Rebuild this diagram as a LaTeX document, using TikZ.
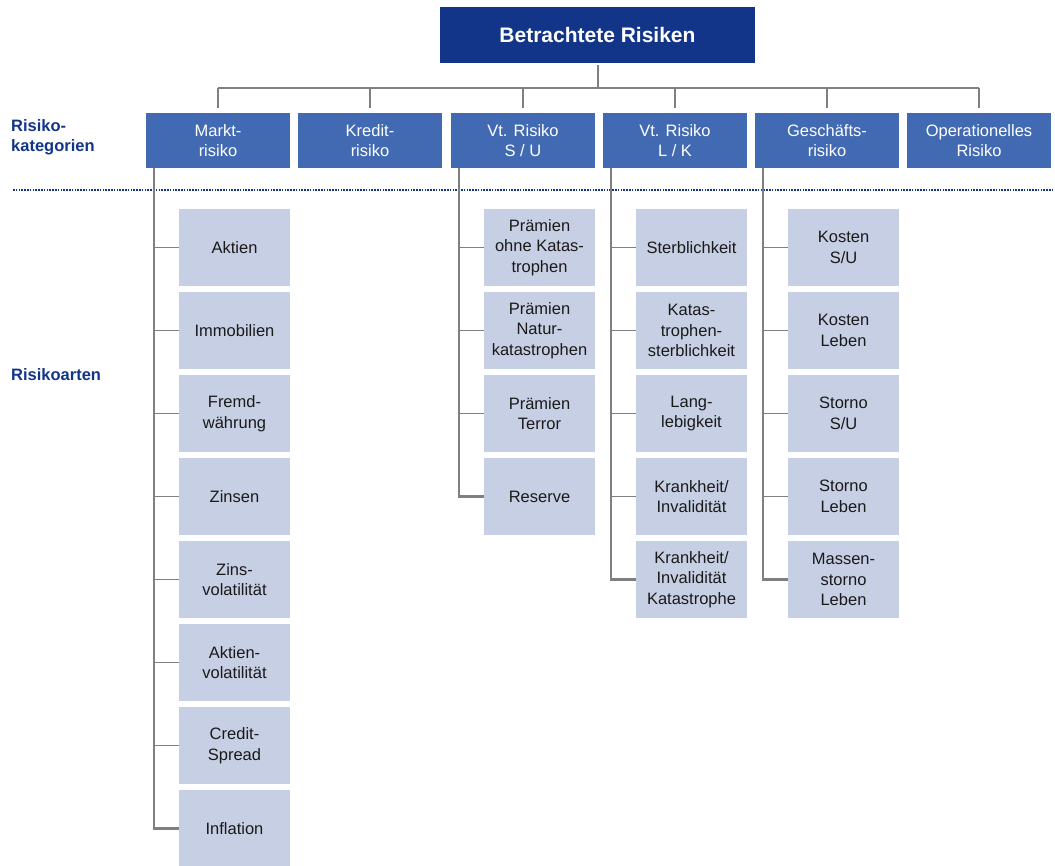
\documentclass[tikz,border=0pt]{standalone}
\usepackage{fontspec}
\setmainfont{Liberation Sans}
\usetikzlibrary{positioning}
\definecolor{titleblue}{HTML}{12358A}
\definecolor{catblue}{HTML}{426AB3}
\definecolor{leafblue}{HTML}{C6CFE3}
\definecolor{linegray}{HTML}{808080}
\definecolor{leaftext}{HTML}{1A1A1A}

\begin{document}
\begin{tikzpicture}[x=1pt,y=-1pt,
  titlebox/.style={rectangle, fill=titleblue, text=white, minimum width=315pt, minimum height=56pt, inner sep=0pt, font=\fontsize{21}{25}\selectfont\bfseries},
  catbox/.style={rectangle, fill=catblue, text=white, minimum width=144pt, minimum height=55pt, align=center, inner sep=0pt, font=\fontsize{16.5}{20.5}\selectfont},
  leaf/.style={rectangle, fill=leafblue, text=leaftext, minimum width=111pt, minimum height=77pt, align=center, inner sep=0pt, font=\fontsize{16.5}{20.5}\selectfont},
  sidelbl/.style={anchor=west, align=left, text=titleblue, inner sep=0pt, font=\fontsize{16.5}{20.5}\selectfont\bfseries},
  link/.style={draw=linegray, line width=2pt},
  trunk/.style={draw=linegray, line width=2.5pt},
  twig/.style={draw=linegray, line width=1.8pt},
  sepline/.style={draw=titleblue, line width=1.8pt, dash pattern=on 1.6pt off 1.2pt},
]
\useasboundingbox (0,0) rectangle (1055,865);

% --- geometry (pixel grid of the reference) ---
\def\yCat{140.5}
\def\yLeaf{247.5}\def\dyLeaf{83}

% --- top node ---
\node[titlebox] (top) at (597.5,35) {Betrachtete Risiken};

% --- row of risk categories ---
\node[catbox] (cat1) at (218,\yCat) {Markt-\\risiko};
\node[catbox] (cat2) at (370,\yCat) {Kredit-\\risiko};
\node[catbox] (cat3) at (523,\yCat) {Vt. Risiko\\S / U};
\node[catbox] (cat4) at (675,\yCat) {Vt. Risiko\\L / K};
\node[catbox] (cat5) at (827,\yCat) {Geschäfts-\\risiko};
\node[catbox] (cat6) at (979,\yCat) {Operationelles\\Risiko};

% --- side labels ---
\node[sidelbl] (lblcat) at (11,137.5) {Risiko-\\kategorien};
\node[sidelbl] (lblart) at (11,375) {Risikoarten};

% --- dotted separator between categories and risk types ---
\coordinate (sepl) at (13,190);
\coordinate (sepr) at (1055,190);
\draw[sepline] (sepl) -- (sepr);

% --- bus from top node to the categories ---
\coordinate (bus) at (597.5,88);
\draw[link, shorten <=2pt] (top.south) -- (bus);
\draw[link] (cat1.north |- bus) -- (cat6.north |- bus);
\foreach \k in {1,...,6}
  \draw[link, shorten >=5pt] (cat\k.north |- bus) -- (cat\k.north);

% --- leaves: Marktrisiko ---
\foreach \t [count=\i] in {Aktien, Immobilien, {Fremd-\\währung}, Zinsen, {Zins-\\volatilität}, {Aktien-\\volatilität}, {Credit-\\Spread}, Inflation}
  \node[leaf] (mk\i) at (234.5,{\yLeaf+\dyLeaf*(\i-1)}) {\t};

% --- leaves: Vt. Risiko S/U ---
\foreach \t [count=\i] in {{Prämien\\ohne Katas-\\trophen}, {Prämien\\Natur-\\katastrophen}, {Prämien\\Terror}, Reserve}
  \node[leaf] (su\i) at (539.5,{\yLeaf+\dyLeaf*(\i-1)}) {\t};

% --- leaves: Vt. Risiko L/K ---
\foreach \t [count=\i] in {Sterblichkeit, {Katas-\\trophen-\\sterblichkeit}, {Lang-\\lebigkeit}, {Krankheit/\\Invalidität}, {Krankheit/\\Invalidität\\Katastrophe}}
  \node[leaf] (lk\i) at (691.5,{\yLeaf+\dyLeaf*(\i-1)}) {\t};

% --- leaves: Geschäftsrisiko ---
\foreach \t [count=\i] in {{Kosten\\S/U}, {Kosten\\Leben}, {Storno\\S/U}, {Storno\\Leben}, {Massen-\\storno\\Leben}}
  \node[leaf] (gs\i) at (843.5,{\yLeaf+\dyLeaf*(\i-1)}) {\t};

% --- trunks hanging from the category boxes ---
\coordinate (tmk) at ([xshift=8pt]cat1.south west);
\coordinate (tsu) at ([xshift=8pt]cat3.south west);
\coordinate (tlk) at ([xshift=8pt]cat4.south west);
\coordinate (tgs) at ([xshift=8pt]cat5.south west);

\draw[trunk] (tmk) |- (mk8.west);
\foreach \i in {1,...,7} \draw[twig] (mk\i.west -| tmk) -- (mk\i.west);

\draw[trunk] (tsu) |- (su4.west);
\foreach \i in {1,...,3} \draw[twig] (su\i.west -| tsu) -- (su\i.west);

\draw[trunk] (tlk) |- (lk5.west);
\foreach \i in {1,...,4} \draw[twig] (lk\i.west -| tlk) -- (lk\i.west);

\draw[trunk] (tgs) |- (gs5.west);
\foreach \i in {1,...,4} \draw[twig] (gs\i.west -| tgs) -- (gs\i.west);

\end{tikzpicture}
\end{document}
